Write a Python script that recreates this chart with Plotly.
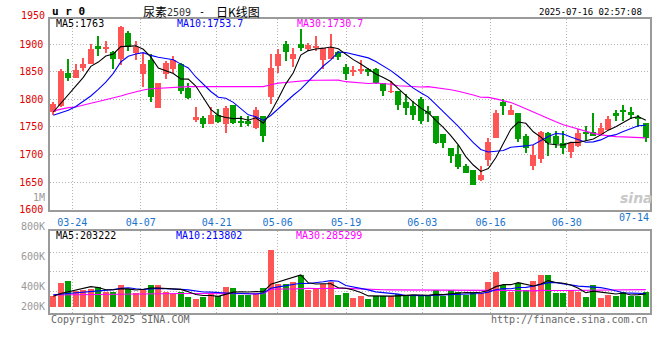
import plotly.graph_objects as go
import pandas as pd

# ---------------- data ----------------
dates = ["03-19","03-20","03-21","03-24","03-25","03-26","03-27","03-28","03-31",
         "04-01","04-02","04-03","04-07","04-08","04-09","04-10","04-11",
         "04-14","04-15","04-16","04-17","04-18","04-21","04-22","04-23","04-24","04-25",
         "04-28","04-29","04-30","05-06","05-07","05-08","05-09","05-12","05-13","05-14",
         "05-15","05-16","05-19","05-20","05-21","05-22","05-23","05-26","05-27","05-28",
         "05-29","05-30","06-03","06-04","06-05","06-06","06-09","06-10","06-11","06-12",
         "06-13","06-16","06-17","06-18","06-19","06-20","06-23","06-24","06-25","06-26",
         "06-27","06-30","07-01","07-02","07-03","07-04","07-07","07-08","07-09","07-10",
         "07-11","07-14","07-15"]

open_ = [1777,1788,1848,1839,1857,1864,1896,1891,1885,1873,1920,1884,1846,1870,1784,1846,1854,
         1863,1820,1763,1765,1755,1772,1755,1789,1761,1760,1748,1770,1803,1860,1900,1873,1899,
         1891,1894,1870,1873,1886,1859,1850,1852,1854,1854,1830,1813,1814,1794,1788,1800,1779,
         1769,1737,1711,1700,1678,1671,1653,1689,1729,1794,1771,1774,1734,1679,1691,1739,1734,
         1720,1705,1715,1741,1741,1736,1744,1774,1780,1776,1767,1757]
high = [1794,1854,1873,1863,1875,1900,1914,1905,1887,1933,1923,1905,1884,1881,1830,1869,1878,
        1866,1830,1785,1770,1785,1782,1788,1790,1770,1770,1785,1770,1882,1890,1905,1892,1927,
        1902,1914,1893,1917,1887,1864,1860,1871,1857,1857,1830,1833,1814,1809,1797,1804,1788,
        1769,1737,1711,1717,1682,1671,1678,1729,1781,1800,1790,1774,1736,1717,1743,1740,1743,
        1743,1723,1746,1752,1775,1756,1769,1780,1790,1786,1771,1757]
low = [1771,1785,1833,1838,1851,1863,1878,1884,1854,1861,1887,1870,1821,1794,1784,1836,1848,
       1809,1800,1758,1748,1754,1757,1739,1754,1749,1752,1746,1723,1792,1848,1869,1858,1887,
       1887,1887,1854,1872,1870,1834,1841,1845,1842,1827,1805,1811,1780,1772,1763,1754,1758,
       1718,1712,1684,1673,1666,1645,1651,1678,1729,1771,1771,1723,1703,1671,1684,1697,1712,
       1700,1693,1713,1725,1734,1736,1744,1761,1760,1764,1749,1723]
close = [1792,1851,1839,1853,1864,1891,1890,1894,1872,1930,1894,1894,1863,1803,1830,1866,1871,
         1814,1802,1767,1754,1772,1758,1784,1757,1757,1754,1781,1734,1857,1882,1886,1882,1893,
         1898,1897,1893,1893,1876,1846,1851,1854,1849,1829,1815,1814,1790,1784,1771,1761,1773,
         1721,1720,1697,1677,1666,1645,1662,1723,1775,1788,1780,1728,1712,1698,1740,1720,1718,
         1711,1721,1739,1736,1734,1748,1764,1769,1776,1771,1764,1730]
volume = [181000,393000,424000,258000,275000,300000,325000,239000,253000,358000,
          289000,234000,294000,358000,358000,248000,212000,248000,160000,129000,
          157000,217000,179000,325000,311000,190000,193000,220000,308000,941000,
          385000,374000,413000,523000,275000,292000,385000,413000,198000,226000,
          143000,182000,127000,182000,182000,182000,209000,193000,193000,171000,
          171000,275000,171000,275000,248000,193000,248000,220000,413000,578000,
          358000,248000,391000,281000,429000,528000,528000,226000,226000,281000,
          248000,165000,358000,143000,193000,182000,248000,182000,182000,248000]

# moving-average values visible before a full window exists
ma5_head = [1777, 1793, 1809, 1825]
ma10_head = [1771, 1775, 1780, 1787, 1796, 1806, 1818, 1831, 1847]
ma30_head = [1779, 1782, 1785, 1786, 1790, 1793, 1796, 1799, 1803, 1806, 1810, 1814, 1817,
             1819, 1820, 1821, 1821, 1822, 1823, 1823, 1823, 1823, 1823, 1823, 1823, 1823,
             1823, 1823, 1823]
vma5_head = [170000, 215000, 245000, 270000]
vma10_head = [195000, 205000, 215000, 225000, 235000, 245000, 255000, 265000, 280000]
vma30_head = [190000, 192000, 195000, 198000, 200000, 203000, 205000, 207000, 209000, 210000,
              211000, 212000, 213000, 214000, 215000, 216000, 216000, 216000, 215000, 214000,
              213000, 212000, 211000, 210000, 210000, 210000, 210000, 210000, 212000]

tick_dates = ["03-24", "04-07", "04-21", "05-06", "05-19", "06-03", "06-16", "06-30", "07-14"]
price_ticks = [1600, 1650, 1700, 1750, 1800, 1850, 1900]
vol_labels = ["1M", "800K", "600K", "400K", "200K"]

title_code = "尿素"
title_contract = "2509"
title_kind = "日K线图"
symbol = "u r 0"
stamp = "2025-07-16 02:57:08"
ma_price_labels = ["MA5:1763", "MA10:1753.7", "MA30:1730.7"]
ma_vol_labels = ["MA5:203222", "MA10:213802", "MA30:285299"]

# ---------------- derived ----------------
n = len(close)
x = list(range(n))


def moving(series, w, head):
    m = pd.Series(series, dtype=float).rolling(w).mean().tolist()
    return list(head) + m[len(head):]


ma5 = moving(close, 5, ma5_head)
ma10 = moving(close, 10, ma10_head)
ma30 = moving(close, 30, ma30_head)
vma5 = moving(volume, 5, vma5_head)
vma10 = moving(volume, 10, vma10_head)
vma30 = moving(volume, 30, vma30_head)

UP = "#FF5555"
DN = "#009E00"
cols = [UP if c >= o else DN for o, c in zip(open_, close)]
body_base = [min(o, c) for o, c in zip(open_, close)]
body_h = [max(abs(c - o), 1.6) for o, c in zip(open_, close)]
wick_h = [h - l for h, l in zip(high, low)]

# ---------------- geometry (pixels) ----------------
W, H = 660, 360
PL, PR = 50, 650
MAIN_T, MAIN_B = 19.5, 213
VOL_T, VOL_B = 234, 317.3
X0, DX = 53.3, 7.5          # centre of first candle, slot width
GX0, GDX = 72.3, 7.606      # first date grid line, grid step per trading day
VZERO, VPX = 310.7, 16500   # volume zero line and volume per pixel


def px(v):
    return v / W


def py(v):
    return 1 - v / H


def xu(p):
    return (p - X0) / DX


tick_idx = [dates.index(d) for d in tick_dates]
grid_u = [xu(GX0 + (i - tick_idx[0]) * GDX) for i in tick_idx[:-1]]

fig = go.Figure()

# price candles
fig.add_trace(go.Bar(x=x, y=wick_h, base=low, width=0.14, marker=dict(color=cols, line_width=0),
                     xaxis="x", yaxis="y", hoverinfo="skip"))
fig.add_trace(go.Bar(x=x, y=body_h, base=body_base, width=0.8, marker=dict(color=cols, line_width=0),
                     xaxis="x", yaxis="y", hoverinfo="skip"))
for m, c in [(ma30, "#FF00FF"), (ma10, "#0000FF"), (ma5, "#000000")]:
    fig.add_trace(go.Scatter(x=x, y=m, mode="lines", line=dict(color=c, width=1.1),
                             xaxis="x", yaxis="y", hoverinfo="skip"))

# volume
fig.add_trace(go.Bar(x=x, y=volume, width=0.76, marker=dict(color=cols, line_width=0),
                     xaxis="x2", yaxis="y2", hoverinfo="skip"))
for m, c in [(vma30, "#FF00FF"), (vma10, "#0000FF"), (vma5, "#000000")]:
    fig.add_trace(go.Scatter(x=x, y=m, mode="lines", line=dict(color=c, width=1.1),
                             xaxis="x2", yaxis="y2", hoverinfo="skip"))

MONO = "DejaVu Sans Mono"
CJK = "Noto Sans CJK SC"
GRID = "#b4b4b4"
FRAME = "#9a9a9a"
xr = [xu(PL), xu(PR)]
vol_range = [-(VOL_B - VZERO) * VPX, (VZERO - VOL_T) * VPX]

fig.update_layout(
    width=W, height=H, margin=dict(l=0, r=0, t=0, b=0),
    paper_bgcolor="white", plot_bgcolor="white", showlegend=False,
    barmode="overlay", bargap=0,
    xaxis=dict(domain=[px(PL), px(PR)], range=xr, anchor="y",
               tickvals=grid_u, ticktext=tick_dates[:-1], ticks="", ticklabelstandoff=2,
               tickfont=dict(family=MONO, size=10, color="#1874CD"),
               showgrid=True, gridcolor=GRID, griddash="1px,2px", gridwidth=1,
               showline=True, linecolor=FRAME, linewidth=1.5, mirror=True, zeroline=False),
    yaxis=dict(domain=[py(MAIN_B), py(MAIN_T)], range=[1599.5, 1945], anchor="x",
               tickvals=price_ticks, ticks="", ticklabelstandoff=3,
               tickfont=dict(family=MONO, size=10, color="#E00000"),
               showgrid=True, gridcolor=GRID, griddash="1px,2px", gridwidth=1,
               showline=True, linecolor=FRAME, linewidth=1.5, mirror=True, zeroline=False),
    xaxis2=dict(domain=[px(PL), px(PR)], range=xr, anchor="y2",
                tickvals=grid_u, showticklabels=False, ticks="",
                showgrid=True, gridcolor=GRID, griddash="1px,2px", gridwidth=1,
                showline=True, linecolor=FRAME, linewidth=1.5, mirror=True, zeroline=False),
    yaxis2=dict(domain=[py(VOL_B), py(VOL_T)], range=vol_range, anchor="x2",
                tickvals=[(VZERO - p) * VPX for p in (295.7, 275.7, 255.7)],
                showticklabels=False, ticks="",
                showgrid=True, gridcolor=GRID, griddash="1px,2px", gridwidth=1,
                showline=True, linecolor=FRAME, linewidth=1.5, mirror=True, zeroline=False),
)

anns = []


def ann(text, xp, yp, color="#000000", size=10, xanchor="left", family=MONO):
    anns.append(dict(text=text, x=px(xp), y=py(yp), xref="paper", yref="paper",
                     xanchor=xanchor, yanchor="middle", showarrow=False,
                     font=dict(family=family, size=size, color=color)))


ann("<b>" + symbol + "</b>", 50, 12, size=11)
ann(title_code, 141, 12, size=12, family=CJK)
ann(title_contract, 164.5, 12.5, color="#333333", size=10)
ann("-", 197, 12, size=10)
ann(title_kind, 214, 12, size=12, family=CJK)
ann(stamp, 644, 12, size=9, xanchor="right")
ann("1950", 47, 16.2, color="#E00000", xanchor="right")
ann(ma_price_labels[0], 54, 24)
ann(ma_price_labels[1], 174.5, 24, color="#0000FF")
ann(ma_price_labels[2], 295, 24, color="#FF00FF")
ann(ma_vol_labels[0], 53.7, 239)
ann(ma_vol_labels[1], 173.7, 239, color="#0000FF")
ann(ma_vol_labels[2], 294, 239, color="#FF00FF")
for t, yy in zip(vol_labels, [200, 230, 260, 290.7, 311]):
    ann(t, 47, yy, color="#999999", xanchor="right")
ann(tick_dates[-1], 634, 220.3, color="#1874CD", xanchor="center")
ann("Copyright 2025 SINA.COM", 49, 323.5, color="#666666")
ann("http://finance.sina.com.cn", 650, 323.5, color="#666666", xanchor="right")
ann("<b><i>sina</i></b>", 636, 201, color="#C8C8C8", size=14, xanchor="center", family="DejaVu Sans")
fig.update_layout(annotations=anns)

fig.write_html("out.html", config={"displayModeBar": False},
               post_script="document.body.style.margin='0px';")
